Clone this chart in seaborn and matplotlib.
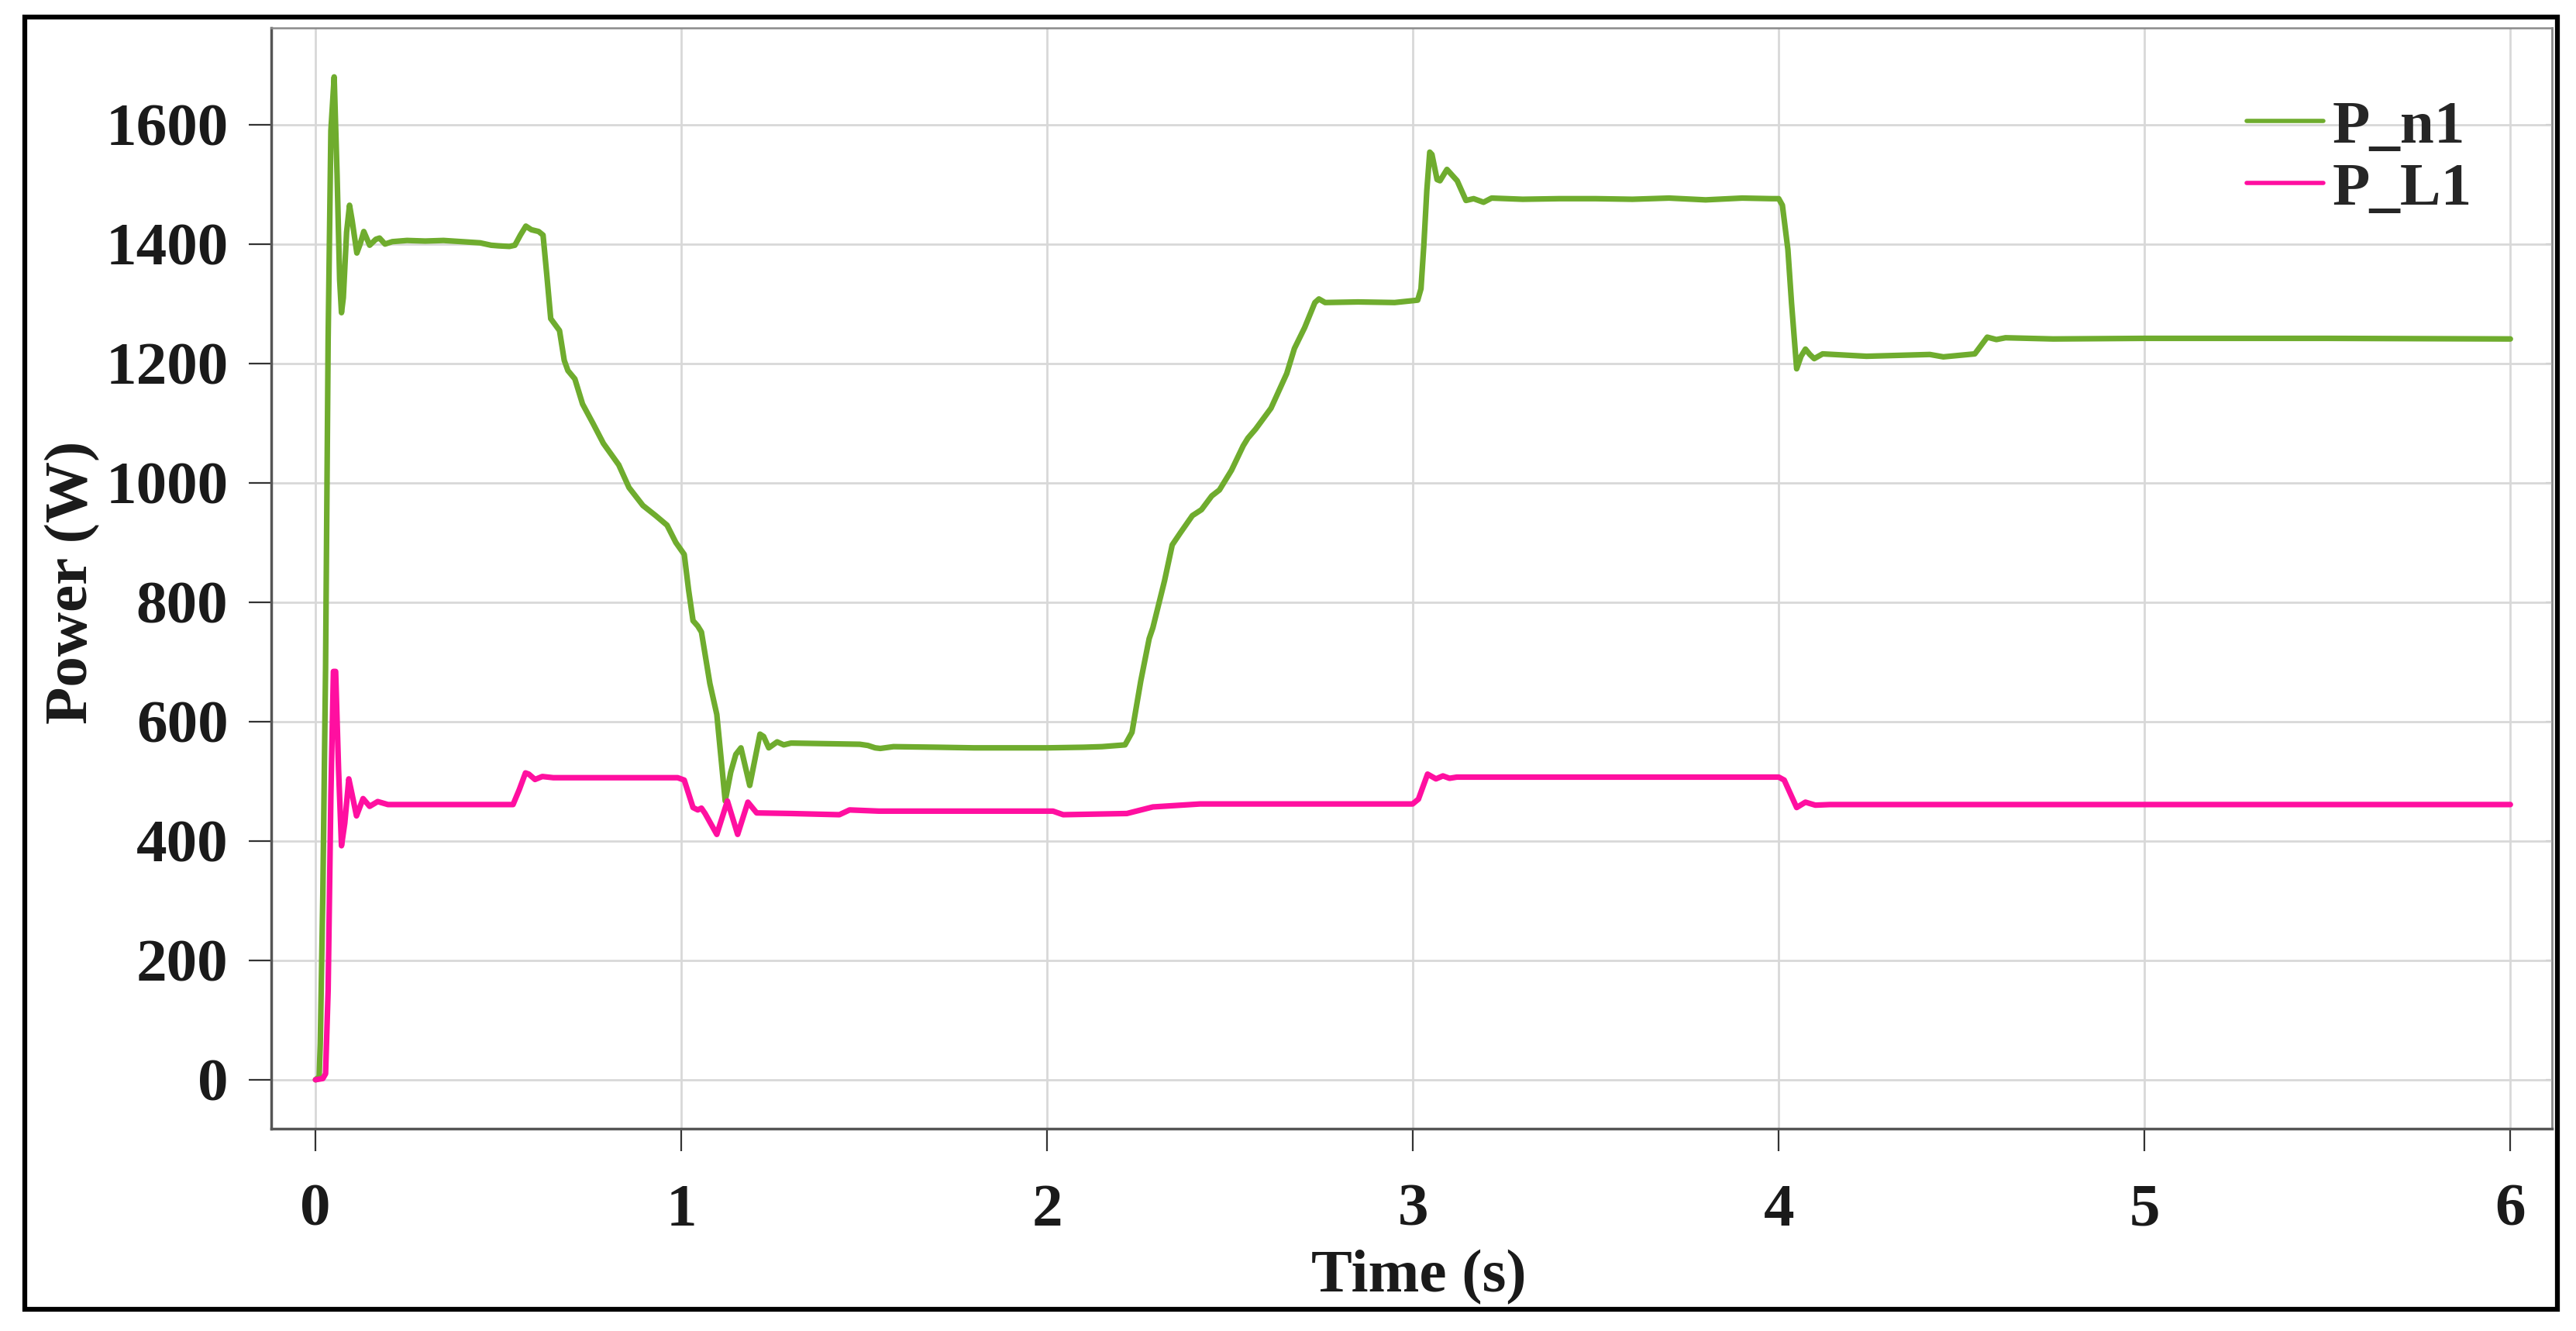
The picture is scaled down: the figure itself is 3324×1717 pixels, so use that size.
import pandas as pd
import numpy as np
import matplotlib
matplotlib.use('Agg')
import matplotlib.pyplot as plt
import seaborn as sns
from matplotlib.patches import Rectangle

# ============================================================
# DATA
# ============================================================

t_n1 = [0.000, 0.010, 0.013, 0.020, 0.0275, 0.0345, 0.042, 0.051, 0.059, 0.066,
        0.071, 0.076, 0.085, 0.093, 0.100, 0.113, 0.122, 0.132, 0.148, 0.165,
        0.175, 0.190, 0.210, 0.25, 0.30, 0.35, 0.40, 0.45, 0.48, 0.50,
        0.53, 0.545, 0.560, 0.575, 0.590, 0.610, 0.622, 0.632, 0.643, 0.655,
        0.667, 0.680, 0.690, 0.709, 0.730, 0.759, 0.787, 0.829, 0.857, 0.895,
        0.930, 0.961, 0.985, 1.008, 1.020, 1.032, 1.045, 1.055, 1.078, 1.097,
        1.120, 1.135, 1.149, 1.163, 1.187, 1.215, 1.225, 1.239, 1.262, 1.280,
        1.300, 1.40, 1.488, 1.510, 1.530, 1.544, 1.58, 1.70, 1.80, 1.90,
        2.00, 2.10, 2.15, 2.213, 2.232, 2.256, 2.279, 2.289, 2.321, 2.342,
        2.364, 2.397, 2.422, 2.450, 2.471, 2.504, 2.536, 2.549, 2.570, 2.612,
        2.655, 2.676, 2.704, 2.732, 2.743, 2.760, 2.85, 2.95, 3.013, 3.022,
        3.030, 3.038, 3.046, 3.052, 3.066, 3.074, 3.093, 3.121, 3.145, 3.166,
        3.193, 3.215, 3.30, 3.40, 3.50, 3.60, 3.70, 3.80, 3.90, 3.98,
        4.000, 4.010, 4.025, 4.035, 4.049, 4.061, 4.073, 4.085, 4.097, 4.12,
        4.24, 4.413, 4.45, 4.536, 4.570, 4.595, 4.62, 4.75, 5.0, 5.5, 6.0]
p_n1 = [0, 5, 60, 310, 690, 1240, 1590, 1680, 1515, 1340,
        1285, 1310, 1420, 1465, 1440, 1385, 1400, 1421, 1398, 1408,
        1410, 1400, 1404, 1406, 1405, 1406, 1404, 1402, 1398, 1397,
        1396, 1398, 1415, 1430, 1424, 1421, 1415, 1350, 1275, 1265,
        1255, 1205, 1188, 1174, 1132, 1099, 1066, 1030, 992, 962,
        945, 929, 900, 880, 820, 769, 760, 750, 664, 612,
        467, 515, 545, 556, 493, 579, 575, 556, 566, 561,
        564, 563, 562, 560, 556, 555, 558, 557, 556, 556,
        556, 557, 558, 561, 582, 668, 739, 757, 836, 896,
        916, 945, 955, 978, 988, 1021, 1062, 1075, 1090, 1125,
        1183, 1225, 1260, 1302, 1308, 1302, 1303, 1302, 1306, 1325,
        1400, 1490, 1554, 1550, 1508, 1506, 1525, 1506, 1473, 1476,
        1470, 1477, 1475, 1476, 1476, 1475, 1477, 1474, 1477, 1476,
        1476, 1465, 1391, 1301, 1191, 1212, 1224, 1215, 1208, 1216,
        1212, 1215, 1211, 1216, 1244, 1240, 1243, 1241, 1242, 1242, 1241]

t_l1 = [0.000, 0.020, 0.0275, 0.0345, 0.042, 0.049, 0.055, 0.063, 0.071, 0.080,
        0.091, 0.100, 0.112, 0.130, 0.148, 0.170, 0.198, 0.54, 0.557, 0.574,
        0.583, 0.600, 0.620, 0.65, 0.99, 1.008, 1.032, 1.045, 1.055, 1.065,
        1.097, 1.126, 1.154, 1.182, 1.206, 1.300, 1.432, 1.460, 1.54, 2.016,
        2.044, 2.218, 2.289, 2.418, 2.999, 3.015, 3.040, 3.063, 3.082, 3.100,
        3.12, 4.000, 4.015, 4.049, 4.073, 4.10, 4.14, 6.0]
p_l1 = [0, 2, 10, 150, 477, 684, 684, 520, 392, 430,
        504, 478, 442, 471, 458, 466, 461, 461, 486, 514,
        512, 503, 508, 506, 506, 502, 456, 452, 455, 446,
        411, 467, 411, 465, 447, 446, 444, 452, 450, 450,
        444, 446, 457, 462, 462, 470, 512, 504, 509, 505,
        507, 507, 502, 456, 465, 460, 461, 461]

series_names = ['P_n1', 'P_L1']
series_colors = ['#6FAC2E', '#FF0FA0']

x_ticks = [0, 1, 2, 3, 4, 5, 6]
y_ticks = [0, 200, 400, 600, 800, 1000, 1200, 1400, 1600]

df = pd.concat([
    pd.DataFrame({'Time': t_n1, 'Power': p_n1, 'Series': series_names[0]}),
    pd.DataFrame({'Time': t_l1, 'Power': p_l1, 'Series': series_names[1]}),
], ignore_index=True)

# ============================================================
# STYLE
# ============================================================

sns.set_theme(style='whitegrid')
plt.rcParams['font.family'] = ['Liberation Serif', 'DejaVu Serif']
plt.rcParams['font.weight'] = 'bold'
plt.rcParams['axes.labelweight'] = 'bold'

FS = 57

fig, ax = plt.subplots(figsize=(33.24, 17.17), dpi=100)
fig.subplots_adjust(left=0.1053, right=0.9907, top=0.979, bottom=0.152)

sns.lineplot(data=df, x='Time', y='Power', hue='Series',
             palette=dict(zip(series_names, series_colors)),
             estimator=None, sort=False, linewidth=5.2, ax=ax)
for line in ax.get_lines():
    line.set_solid_joinstyle('round')
    line.set_solid_capstyle('round')

ax.set_xlim(-0.121, 6.114)
ax.set_ylim(-82, 1762)
ax.set_xticks(x_ticks)
ax.set_yticks(y_ticks)

ax.grid(True, color='#d8d8d8', linewidth=2)
ax.set_facecolor('white')

for side in ['left', 'bottom']:
    ax.spines[side].set_color('#555555')
    ax.spines[side].set_linewidth(2.5)
for side in ['top', 'right']:
    ax.spines[side].set_color('#8a8a8a')
    ax.spines[side].set_linewidth(1.8)

ax.tick_params(axis='both', direction='out', length=21, width=1.6,
               color='#333333', labelsize=FS, labelcolor='#1a1a1a')
ax.tick_params(axis='x', pad=30, bottom=True)
ax.tick_params(axis='y', pad=19, left=True)
for lab in ax.get_xticklabels() + ax.get_yticklabels():
    lab.set_fontweight('bold')

# small inward ticks on right spine
sec = ax.secondary_yaxis('right')
sec.set_yticks(y_ticks)
sec.tick_params(direction='in', length=6, width=1.5, color='#777777',
                labelright=False)
sec.spines['right'].set_color('#8a8a8a')
sec.spines['right'].set_linewidth(1.8)

ax.set_xlabel('Time (s)', fontsize=FS, fontweight='bold', color='#1a1a1a')
ax.set_ylabel('Power (W)', fontsize=FS, fontweight='bold', color='#1a1a1a')
ax.xaxis.set_label_coords(0.503, -0.11)
ax.yaxis.set_label_coords(-0.075, 0.496)

leg = ax.legend(loc='upper left', bbox_to_anchor=(0.866, 0.935),
                frameon=False, fontsize=FS, handlelength=1.25,
                handletextpad=0.15, labelspacing=0.1, borderpad=0,
                borderaxespad=0)
for txt in leg.get_texts():
    txt.set_fontweight('bold')
for line in leg.get_lines():
    line.set_linewidth(4)

# outer frame round the whole figure
fig.patches.append(Rectangle((0.0096, 0.0163), 0.9832, 0.9709,
                             transform=fig.transFigure, fill=False,
                             edgecolor='black', linewidth=4.5, zorder=10))

fig.savefig('out.png', dpi=100, facecolor='white')
